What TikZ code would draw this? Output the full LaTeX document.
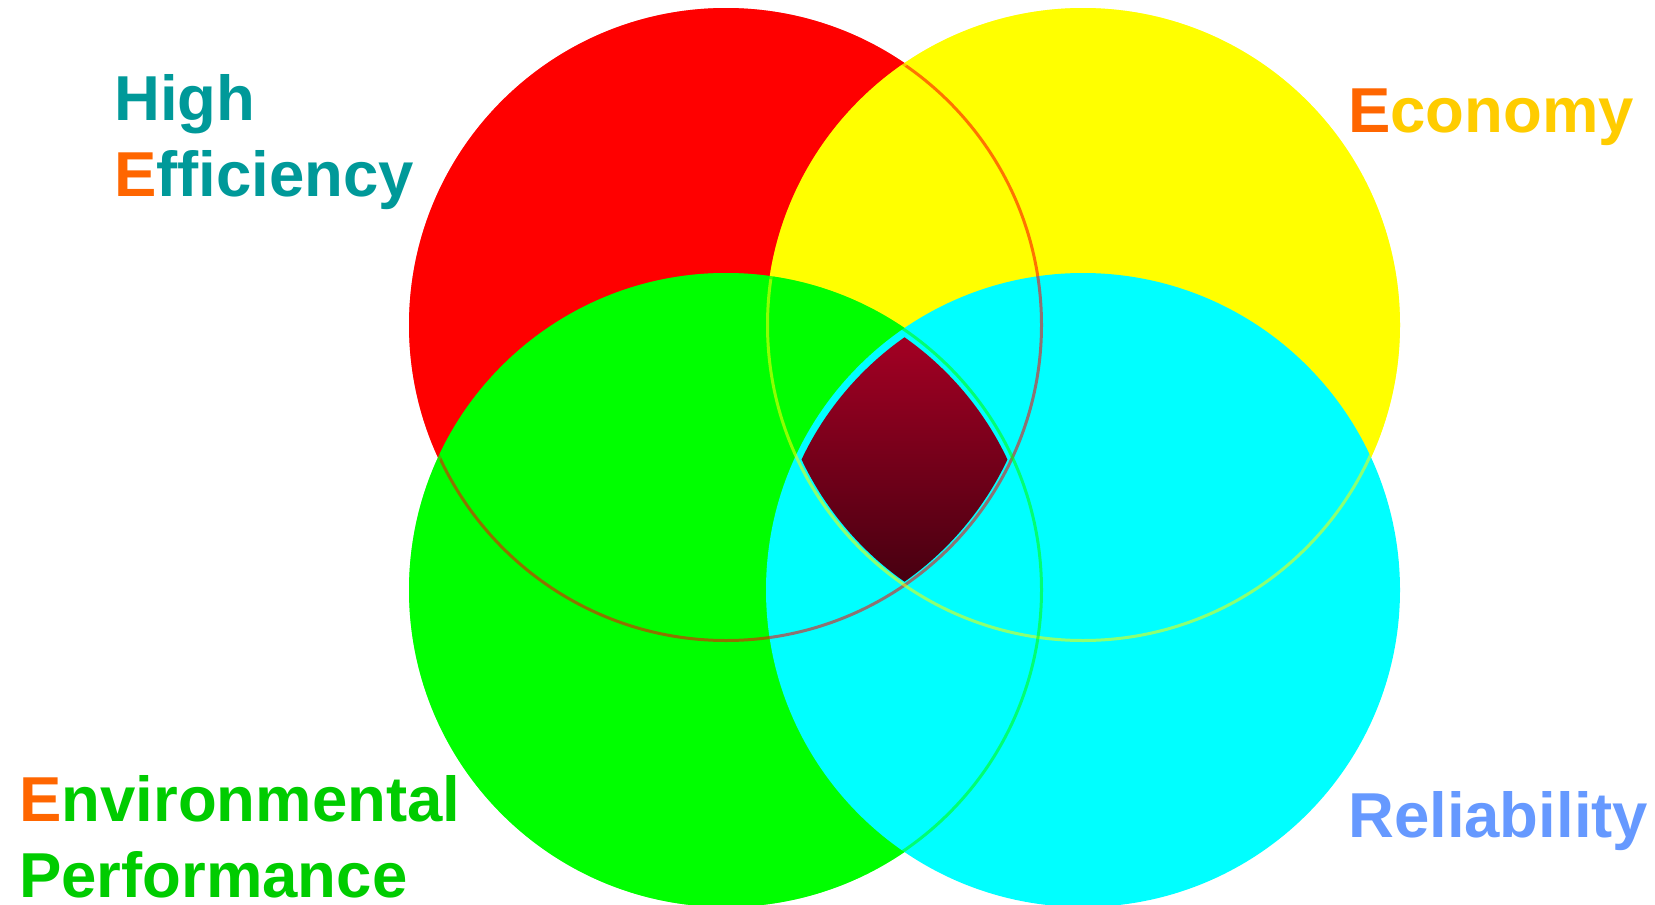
\documentclass[tikz,border=0pt]{standalone}
\usepackage{fontspec}
\setmainfont{Liberation Sans}
\begin{document}
\begin{tikzpicture}[x=1pt,y=-1pt,
  circ/.style={fill=#1,draw=none},
  ring/.style={draw=#1,line width=6pt,draw opacity=0.55},
  lab/.style={anchor=base west,inner sep=0pt,text depth=0pt,font=\fontsize{63.5}{76}\selectfont\bfseries}]
\definecolor{cteal}{HTML}{009999}
\definecolor{corange}{HTML}{FF6600}
\definecolor{cgold}{HTML}{FFCC00}
\definecolor{cgreen}{HTML}{00CC00}
\definecolor{cblue}{HTML}{6699FF}
\definecolor{pred}{RGB}{255,0,0}
\definecolor{pyellow}{RGB}{255,255,0}
\definecolor{pgreen}{RGB}{0,255,0}
\definecolor{pcyan}{RGB}{0,255,255}
\definecolor{ctop}{RGB}{166,0,36}
\definecolor{cbot}{RGB}{68,0,16}
\useasboundingbox (0,0) rectangle (1655,905);
\coordinate (cr) at (726,325);
\coordinate (cy) at (1083,325);
\coordinate (cg) at (726,590);
\coordinate (cc) at (1083,590);
% fills
\fill[circ=pred] (cr) circle (317);
\fill[circ=pyellow] (cy) circle (317);
\fill[circ=pgreen] (cg) circle (317);
\fill[circ=pcyan] (cc) circle (317);
% outlines, kept to the inside of each circle
\begin{scope}
  \clip (cr) circle (317);
  \draw[ring=pred] (cr) circle (317);
\end{scope}
\begin{scope}
  \clip (cy) circle (317);
  \draw[ring=pyellow] (cy) circle (317);
\end{scope}
\begin{scope}
  \clip (cg) circle (317);
  \draw[ring=pgreen] (cg) circle (317);
\end{scope}
% central region
\begin{scope}
  \clip (726,327) circle (311);
  \clip (1083,327) circle (311);
  \clip (726,592) circle (311);
  \clip (1083,592) circle (311);
  \shade[top color=ctop,bottom color=cbot] (790,330) rectangle (1020,590);
\end{scope}
% labels
\node[lab,text=cteal] (h1) at (114,120) {High};
\node[lab,text=cteal] (h2) at (114,196) {\textcolor{corange}{E}fficiency};
\node[lab,text=cgold] (ec) at (1348,132) {\textcolor{corange}{E}conomy};
\node[lab,text=cgreen] (en1) at (19,821) {\textcolor{corange}{E}nvironmental};
\node[lab,text=cgreen] (en2) at (19,897) {Performance};
\node[lab,text=cblue] (re) at (1348,837) {Reliability};
\end{tikzpicture}
\end{document}
